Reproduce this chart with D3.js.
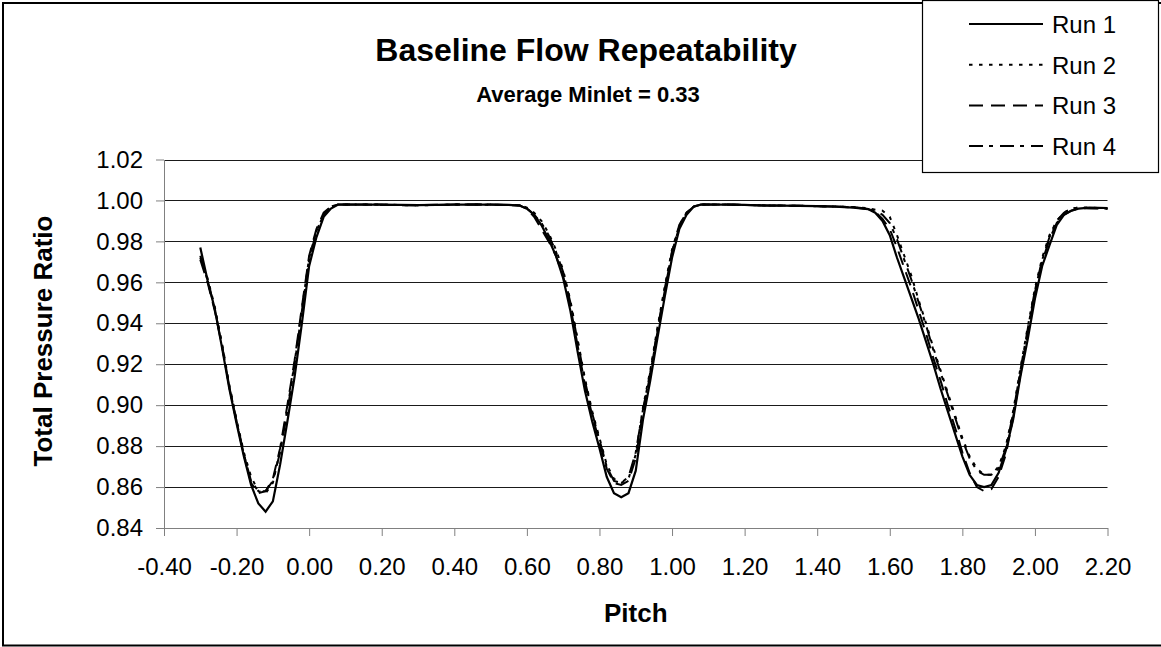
<!DOCTYPE html>
<html>
<head>
<meta charset="utf-8">
<script src="https://cdn.jsdelivr.net/npm/d3@7"></script>
<style>
  body { margin: 0; background: #fff; }
  text { font-family: 'Liberation Sans', Arial, sans-serif; fill: #000; }
</style>
</head>
<body>
<div id="chart"></div>
<script>

// Pitch positions (shared by all runs)
const pitch = [
  -0.30, -0.28, -0.26, -0.24, -0.22, -0.20, -0.18, -0.16, -0.14, -0.12, -0.10, -0.08, -0.06, -0.04, -0.02, 0.00, 0.02, 0.04, 0.06, 0.08, 0.10,
  0.15, 0.20, 0.25, 0.30, 0.35, 0.40, 0.45, 0.50, 0.55,
  0.58, 0.60, 0.62, 0.64, 0.66, 0.68, 0.70, 0.72, 0.74, 0.76, 0.78, 0.80, 0.82, 0.84, 0.86, 0.88, 0.90, 0.92, 0.94, 0.96, 0.98, 1.00, 1.02, 1.04, 1.06, 1.08, 1.10,
  1.15, 1.20, 1.25, 1.30, 1.35, 1.40, 1.45, 1.50,
  1.54, 1.56, 1.58, 1.60, 1.62, 1.64, 1.66, 1.68, 1.70, 1.72, 1.74, 1.76, 1.78, 1.80, 1.82, 1.84, 1.86, 1.88, 1.90, 1.92, 1.94, 1.96, 1.98, 2.00, 2.02, 2.04, 2.06, 2.08, 2.10, 2.12,
  2.15, 2.20
];

const run1 = [
  0.977, 0.961, 0.947, 0.928, 0.908, 0.891, 0.875, 0.861, 0.852, 0.848, 0.853, 0.871, 0.892, 0.914, 0.940, 0.968, 0.982, 0.992, 0.996, 0.998, 0.998,
  0.998, 0.998, 0.9978, 0.9977, 0.9978, 0.998, 0.998, 0.998, 0.9978,
  0.9975, 0.996, 0.993, 0.988, 0.981, 0.973, 0.962, 0.946, 0.926, 0.907, 0.892, 0.879, 0.865, 0.857, 0.855, 0.857, 0.868, 0.893, 0.912, 0.933, 0.953, 0.972, 0.986, 0.993, 0.997, 0.998, 0.998,
  0.998, 0.9978, 0.9975, 0.9975, 0.9973, 0.9972, 0.997, 0.9965,
  0.9958, 0.994, 0.990, 0.983, 0.972, 0.962, 0.952, 0.942, 0.931, 0.920, 0.908, 0.897, 0.886, 0.875, 0.866, 0.861, 0.860, 0.861, 0.867, 0.878, 0.893, 0.914, 0.932, 0.952, 0.968, 0.978, 0.988, 0.993, 0.995, 0.996,
  0.9965, 0.9963
];

const run2 = [
  0.972, 0.962, 0.948, 0.930, 0.910, 0.893, 0.877, 0.865, 0.858, 0.857, 0.862, 0.878, 0.898, 0.921, 0.947, 0.972, 0.985, 0.993, 0.997, 0.998, 0.998,
  0.998, 0.998, 0.9977, 0.9976, 0.9978, 0.998, 0.998, 0.9979, 0.9978,
  0.9977, 0.9965, 0.994, 0.990, 0.984, 0.976, 0.966, 0.951, 0.932, 0.913, 0.897, 0.884, 0.871, 0.864, 0.862, 0.864, 0.876, 0.899, 0.917, 0.938, 0.958, 0.976, 0.988, 0.994, 0.997, 0.998, 0.998,
  0.998, 0.9978, 0.9976, 0.9975, 0.9974, 0.9972, 0.997, 0.9968,
  0.9962, 0.9955, 0.995, 0.992, 0.983, 0.973, 0.963, 0.951, 0.940, 0.928, 0.917, 0.906, 0.895, 0.884, 0.875, 0.869, 0.866, 0.866, 0.870, 0.880, 0.897, 0.918, 0.938, 0.957, 0.972, 0.983, 0.990, 0.994, 0.996, 0.9965,
  0.9965, 0.9962
];

const run3 = [
  0.971, 0.960, 0.946, 0.929, 0.909, 0.892, 0.876, 0.862, 0.857, 0.858, 0.864, 0.879, 0.900, 0.922, 0.948, 0.973, 0.986, 0.994, 0.997, 0.998, 0.998,
  0.998, 0.9978, 0.9977, 0.9977, 0.9979, 0.998, 0.998, 0.998, 0.9977,
  0.9975, 0.996, 0.992, 0.986, 0.980, 0.973, 0.963, 0.948, 0.929, 0.910, 0.895, 0.882, 0.869, 0.862, 0.861, 0.863, 0.874, 0.897, 0.915, 0.936, 0.956, 0.975, 0.987, 0.994, 0.997, 0.998, 0.998,
  0.998, 0.9978, 0.9976, 0.9975, 0.9974, 0.9972, 0.997, 0.9966,
  0.9958, 0.9945, 0.991, 0.986, 0.977, 0.967, 0.957, 0.946, 0.935, 0.923, 0.912, 0.900, 0.889, 0.877, 0.867, 0.860, 0.858, 0.859, 0.865, 0.876, 0.894, 0.915, 0.935, 0.955, 0.970, 0.981, 0.989, 0.993, 0.995, 0.996,
  0.9963, 0.996
];

const run4 = [
  0.973, 0.961, 0.947, 0.929, 0.909, 0.892, 0.876, 0.863, 0.858, 0.858, 0.863, 0.877, 0.897, 0.920, 0.946, 0.971, 0.985, 0.993, 0.997, 0.998, 0.998,
  0.998, 0.998, 0.9978, 0.9977, 0.9978, 0.998, 0.998, 0.998, 0.9978,
  0.9976, 0.9962, 0.993, 0.989, 0.983, 0.975, 0.965, 0.950, 0.931, 0.912, 0.896, 0.883, 0.870, 0.863, 0.862, 0.865, 0.877, 0.898, 0.916, 0.937, 0.957, 0.975, 0.988, 0.994, 0.997, 0.998, 0.998,
  0.998, 0.9978, 0.9976, 0.9975, 0.9974, 0.9972, 0.997, 0.9967,
  0.996, 0.995, 0.993, 0.989, 0.981, 0.971, 0.961, 0.950, 0.939, 0.927, 0.916, 0.905, 0.894, 0.883, 0.874, 0.868, 0.866, 0.866, 0.869, 0.879, 0.896, 0.917, 0.937, 0.956, 0.971, 0.982, 0.990, 0.994, 0.996, 0.9965,
  0.9962, 0.996
];

const runNames = [ 'Run 1', 'Run 2', 'Run 3', 'Run 4' ];
const runValues = [ run1, run2, run3, run4 ];
const xTicks = [ -0.40, -0.20, 0.00, 0.20, 0.40, 0.60, 0.80, 1.00, 1.20, 1.40, 1.60, 1.80, 2.00, 2.20 ];
const yTicks = [ 0.84, 0.86, 0.88, 0.90, 0.92, 0.94, 0.96, 0.98, 1.00, 1.02 ];

const chartTitle = 'Baseline Flow Repeatability';
const chartSubtitle = 'Average Minlet = 0.33';
const xAxisTitle = 'Pitch';
const yAxisTitle = 'Total Pressure Ratio';

// line styles, one per run
const dashes = [ null, '3.5,6.5', '14,8', '14,6,4,7' ];

const figure_width = 1161;
const figure_height = 647;
const plot = { left: 164, right: 1107.5, top: 159.5, bottom: 528 };

// Excel style labels: plain hyphen for negatives
const fmt = function( d ) { return d3.format( '.2f' )( d ).replace( '\u2212', '-' ); };

const svg = d3.select( 'div#chart' )
  .append( 'svg' )
    .attr( 'width', figure_width )
    .attr( 'height', figure_height );

// chart area border (runs off the right edge)
svg.append( 'rect' )
  .attr( 'x', 3 ).attr( 'y', 3 )
  .attr( 'width', 1175 ).attr( 'height', 642.5 )
  .attr( 'fill', '#fff' )
  .attr( 'stroke', '#000' )
  .attr( 'stroke-width', 2 );

const x = d3.scaleLinear()
  .domain( [ -0.4, 2.2 ] )
  .range( [ plot.left, plot.right ] );

const y = d3.scaleLinear()
  .domain( [ 0.84, 1.02 ] )
  .range( [ plot.bottom, plot.top ] );

// horizontal gridlines
svg.append( 'g' )
  .selectAll( 'line' )
  .data( yTicks.slice( 1 ) )
  .enter()
  .append( 'line' )
    .attr( 'x1', plot.left )
    .attr( 'x2', plot.right )
    .attr( 'y1', function( d ) { return Math.round( y( d ) ) + 0.5; } )
    .attr( 'y2', function( d ) { return Math.round( y( d ) ) + 0.5; } )
    .attr( 'stroke', '#1a1a1a' )
    .attr( 'stroke-width', 1 );

// Y axis
const yAxis = svg.append( 'g' )
  .attr( 'transform', 'translate(' + plot.left + ',0)' )
  .call( d3.axisLeft( y ).tickValues( yTicks ).tickFormat( fmt ).tickSize( 8 ).tickPadding( 13 ).tickSizeOuter( 0 ) );

// X axis
const xAxis = svg.append( 'g' )
  .attr( 'transform', 'translate(0,' + plot.bottom + ')' )
  .call( d3.axisBottom( x ).tickValues( xTicks ).tickFormat( fmt ).tickSize( 8 ).tickPadding( 22 ).tickSizeOuter( 0 ) );

[ yAxis, xAxis ].forEach( function( ax ) {
  ax.select( '.domain' ).attr( 'stroke', '#808080' );
  ax.selectAll( '.tick line' ).attr( 'stroke', '#808080' );
  ax.selectAll( 'text' )
    .style( 'font-family', "'Liberation Sans', Arial, sans-serif" )
    .style( 'font-size', '24px' )
    .attr( 'fill', '#000' );
});

// the runs
const line = d3.line()
  .x( function( d ) { return x( d.p ); } )
  .y( function( d ) { return y( d.v ); } );

runValues.forEach( function( vals, i ) {
  const pts = pitch.map( function( p, k ) { return { p: p, v: vals[ k ] }; } );
  svg.append( 'path' )
    .datum( pts )
    .attr( 'd', line )
    .attr( 'fill', 'none' )
    .attr( 'stroke', '#000' )
    .attr( 'stroke-width', i == 0 ? 2.2 : 2 )
    .attr( 'stroke-dasharray', dashes[ i ] );
});

// titles
svg.append( 'text' )
  .attr( 'x', 586 ).attr( 'y', 61 )
  .attr( 'text-anchor', 'middle' )
  .style( 'font-size', '32px' ).style( 'font-weight', 'bold' )
  .text( chartTitle );

svg.append( 'text' )
  .attr( 'x', 588 ).attr( 'y', 102 )
  .attr( 'text-anchor', 'middle' )
  .style( 'font-size', '22px' ).style( 'font-weight', 'bold' )
  .text( chartSubtitle );

svg.append( 'text' )
  .attr( 'x', ( plot.left + plot.right ) / 2 ).attr( 'y', 622 )
  .attr( 'text-anchor', 'middle' )
  .style( 'font-size', '26px' ).style( 'font-weight', 'bold' )
  .text( xAxisTitle );

svg.append( 'text' )
  .attr( 'transform', 'translate(52,' + 341 + ') rotate(-90)' )
  .attr( 'text-anchor', 'middle' )
  .style( 'font-size', '26px' ).style( 'font-weight', 'bold' )
  .text( yAxisTitle );

// Legend
const legend = svg.append( 'g' );
legend.append( 'rect' )
  .attr( 'x', 922.5 ).attr( 'y', 0.5 )
  .attr( 'width', 236 ).attr( 'height', 172 )
  .attr( 'fill', '#fff' )
  .attr( 'stroke', '#000' )
  .attr( 'stroke-width', 1.2 );

runNames.forEach( function( name, i ) {
  const base = 33 + i * 40.7;
  legend.append( 'line' )
    .attr( 'x1', 969 ).attr( 'x2', 1043 )
    .attr( 'y1', base - 9 ).attr( 'y2', base - 9 )
    .attr( 'stroke', '#000' )
    .attr( 'stroke-width', 2 )
    .attr( 'stroke-dasharray', dashes[ i ] );
  legend.append( 'text' )
    .attr( 'x', 1052 ).attr( 'y', base )
    .style( 'font-size', '24px' )
    .text( name );
});

</script>
</body>
</html>
